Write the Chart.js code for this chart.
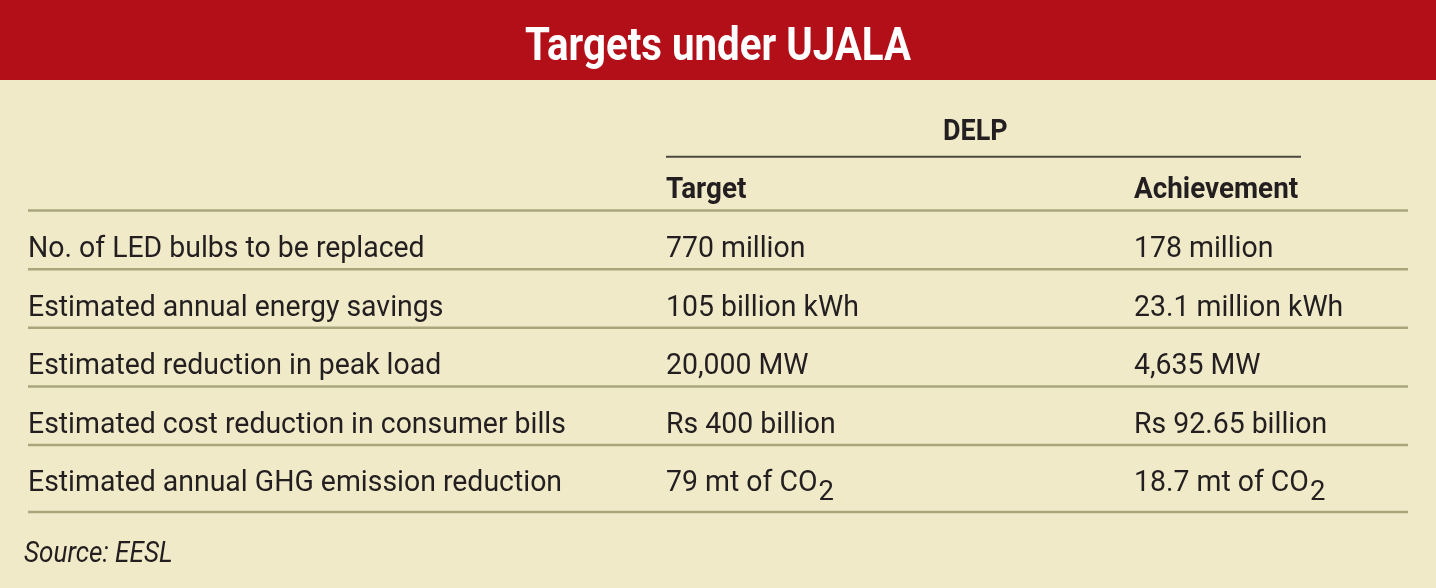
<!DOCTYPE html>
<html>
<head>
<meta charset="utf-8">
<script src="https://cdn.jsdelivr.net/npm/chart.js@4.4.1/dist/chart.umd.min.js"></script>
<style>
  html, body { margin: 0; padding: 0; background: #f0eac8; }
  #wrap { width: 1436px; height: 588px; }
</style>
</head>
<body>
<div id="wrap"><canvas id="tableChart"></canvas></div>
<script>
const title = "Targets under UJALA";
const groupHeader = "DELP";
const columnHeaders = ["Target", "Achievement"];
const rowLabels = [
  "No. of LED bulbs to be replaced",
  "Estimated annual energy savings",
  "Estimated reduction in peak load",
  "Estimated cost reduction in consumer bills",
  "Estimated annual GHG emission reduction",
];
const targetValues = ["770 million", "105 billion kWh", "20,000 MW", "Rs 400 billion", "79 mt of CO₂"];
const achievementValues = ["178 million", "23.1 million kWh", "4,635 MW", "Rs 92.65 billion", "18.7 mt of CO₂"];
const source = "Source: EESL";

// layout (x in px from the left rule, y in row units)
const colX = [0, 638, 1106];
const rules = [-0.5, 0.5, 1.5, 2.5, 3.5, 4.64];
const ink = "#231f20";

// one point per cell, built from the arrays above
const cells = [];
rowLabels.forEach((label, r) => {
  cells.push({ x: colX[0], y: r, text: label, sx: 0.98 });
  cells.push({ x: colX[1], y: r, text: targetValues[r], sx: 0.98 });
  cells.push({ x: colX[2], y: r, text: achievementValues[r], sx: 0.98 });
});
columnHeaders.forEach((h, i) => cells.push({ x: colX[i + 1], y: -1, text: h, bold: true, sx: 0.96 }));
cells.push({ x: 915, y: -2, text: groupHeader, bold: true, sx: 0.93 });
cells.push({ x: -4, y: 5.2, text: source, italic: true, sx: 0.9 });

function drawText(ctx, text, x, y, size, weight, style, sx) {
  ctx.save();
  ctx.translate(x, y);
  ctx.scale(sx, 1);
  ctx.fillStyle = ink;
  ctx.textAlign = "left";
  ctx.textBaseline = "alphabetic";
  ctx.font = style + " " + weight + " " + size + "px Roboto, 'Noto Sans', sans-serif";
  const parts = text.split("₂");
  ctx.fillText(parts[0], 0, 0);
  if (parts.length > 1) {
    const w = ctx.measureText(parts[0]).width;
    ctx.font = weight + " " + Math.round(size * 0.95) + "px Roboto, 'Noto Sans', sans-serif";
    ctx.fillText("2", w + 1, 9);
  }
  ctx.restore();
}

const tablePlugin = {
  id: "tablePlugin",
  beforeDraw(chart) {
    const { ctx, width } = chart;
    ctx.save();
    ctx.fillStyle = "#f0eac8";
    ctx.fillRect(0, 0, width, chart.height);
    ctx.fillStyle = "#b20f18";
    ctx.fillRect(0, 0, width, 80);
    ctx.restore();
    ctx.save();
    ctx.translate(width / 2, 60);
    ctx.scale(0.875, 1);
    ctx.fillStyle = "#ffffff";
    ctx.textAlign = "center";
    ctx.font = "bold 46px Roboto, 'Noto Sans', sans-serif";
    ctx.fillText(title, 0, 0);
    ctx.restore();
  },
  beforeDatasetsDraw(chart) {
    const { ctx, scales: { x, y } } = chart;
    ctx.save();
    ctx.strokeStyle = "#aaa67c";
    ctx.lineWidth = 2.5;
    rules.forEach((v) => {
      const py = y.getPixelForValue(v);
      ctx.beginPath();
      ctx.moveTo(x.getPixelForValue(0), py);
      ctx.lineTo(x.getPixelForValue(1380), py);
      ctx.stroke();
    });
    ctx.strokeStyle = "#4d4840";
    ctx.lineWidth = 2;
    const gy = y.getPixelForValue(-1.42);
    ctx.beginPath();
    ctx.moveTo(x.getPixelForValue(colX[1]), gy);
    ctx.lineTo(x.getPixelForValue(1273), gy);
    ctx.stroke();
    ctx.restore();
  },
  afterDatasetsDraw(chart) {
    const { ctx } = chart;
    const meta = chart.getDatasetMeta(0);
    meta.data.forEach((pt, i) => {
      const c = cells[i];
      drawText(ctx, c.text, pt.x, pt.y + 17, 29, c.bold ? "bold" : "normal", c.italic ? "italic" : "normal", c.sx);
    });
  },
};

new Chart(document.getElementById("tableChart"), {
  type: "scatter",
  data: {
    datasets: [
      {
        data: cells.map((c) => ({ x: c.x, y: c.y })),
        pointRadius: 0,
        pointHoverRadius: 0,
      },
    ],
  },
  options: {
    responsive: true,
    maintainAspectRatio: false,
    animation: false,
    events: [],
    layout: { padding: { top: 108, bottom: 11, left: 28, right: 28 } },
    plugins: { legend: { display: false }, tooltip: { enabled: false } },
    scales: {
      x: { type: "linear", min: 0, max: 1380, display: false },
      y: { type: "linear", min: -2.25, max: 5.75, reverse: true, display: false },
    },
  },
  plugins: [tablePlugin],
});
</script>
</body>
</html>
